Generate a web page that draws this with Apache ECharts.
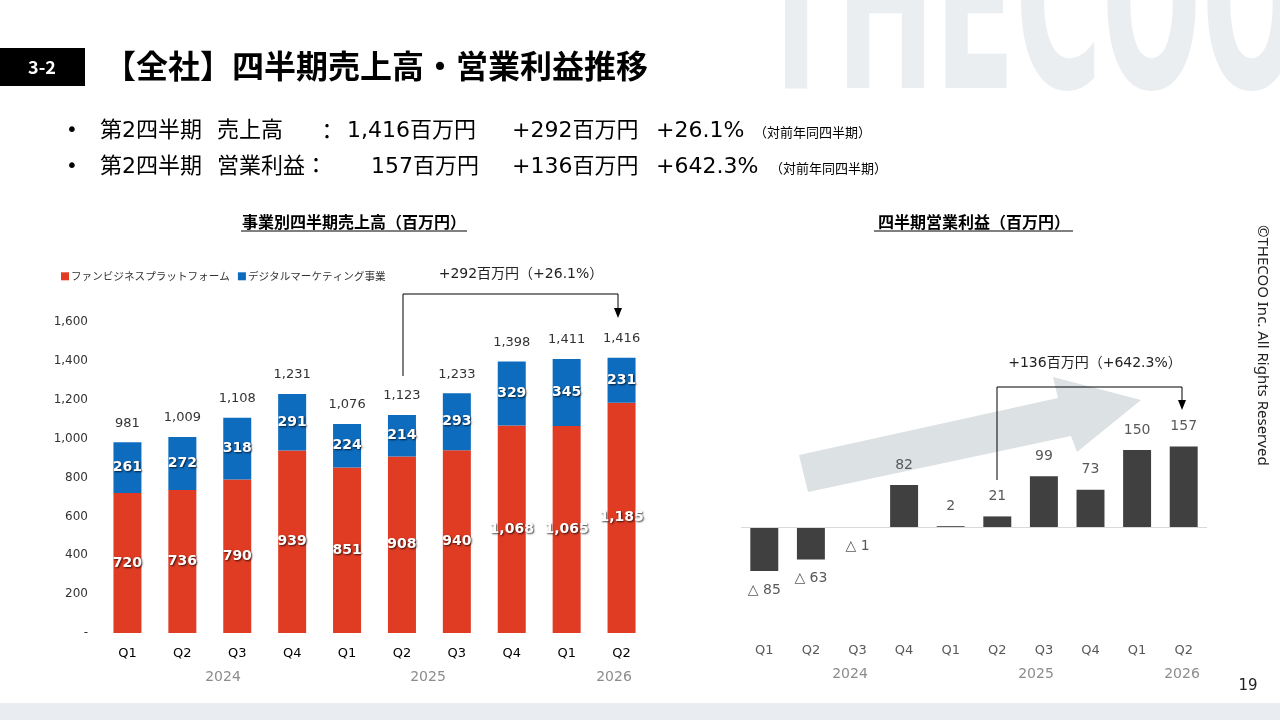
<!DOCTYPE html>
<html><head><meta charset="utf-8">
<script src="https://cdn.jsdelivr.net/npm/echarts@6/dist/echarts.min.js"></script>
<style>html,body{margin:0;padding:0;background:#fff}#c{width:1280px;height:720px}</style>
</head><body><div id="c"></div>
<script>
const quarters = ['Q1','Q2','Q3','Q4','Q1','Q2','Q3','Q4','Q1','Q2'];
const years = ['2024','2025','2026'];
const fanBiz = [720,736,790,939,851,908,940,1068,1065,1185];
const digital = [261,272,318,291,224,214,293,329,345,231];
const salesTotal = [981,1009,1108,1231,1076,1123,1233,1398,1411,1416];
const opProfit = [-85,-63,-1,82,2,21,99,73,150,157];
const salesAxis = {min:0, max:1600, interval:200};
const profitAxis = {min:-200, max:300};
const seriesNames = ['ファンビジネスプラットフォーム','デジタルマーケティング事業'];

const JP = '"Noto Sans CJK JP", sans-serif';
const NUM = '"DejaVu Sans", "Noto Sans CJK JP", sans-serif';
const fmt = v => v.toLocaleString('en-US');

const chart = echarts.init(document.getElementById('c'));

const inLabel = {show:true, position:'inside', color:'#fff', fontWeight:'bold', fontSize:14, fontFamily:NUM,
  textShadowColor:'rgba(0,0,0,0.75)', textShadowBlur:2, textShadowOffsetX:1, textShadowOffsetY:1,
  formatter: p => fmt(p.value)};

function txt(x,y,text,style){ return {type:'text', x, y, style:Object.assign({text, fill:'#000', font:'22px '+NUM, textVerticalAlign:'middle'}, style||{})}; }
function line(points,color,w){ return {type:'polyline', shape:{points}, style:{stroke:color||'#000', lineWidth:w||1, fill:null}}; }
function tri(pts){ return {type:'polygon', shape:{points:pts}, style:{fill:'#000'}}; }

const graphics = [
  // watermark
  {type:'text', x:756, y:26, z:-10, scaleX:0.545, style:{text:'THECOO', fill:'#EBEEF1', font:'bold 240px "DejaVu Sans Condensed", sans-serif', textVerticalAlign:'middle'}},
  // bottom band
  {type:'rect', shape:{x:0,y:703,width:1280,height:17}, style:{fill:'#E9EDF1'}},
  // header
  {type:'rect', shape:{x:0,y:48,width:85,height:38}, style:{fill:'#000'}},
  txt(42,67,'3-2',{fill:'#fff', font:'bold 18px '+JP, textAlign:'center'}),
  txt(104,66,'【全社】四半期売上高・営業利益推移',{font:'bold 32px '+JP}),
  // bullets
  txt(72,131,'•',{font:'20px '+NUM, textAlign:'center'}),
  txt(100,131,'第2四半期',{}), txt(217,131,'売上高',{}), txt(316,131,'：',{font:'22px '+JP}),
  txt(347,131,'1,416百万円',{}), txt(512,131,'+292百万円',{}), txt(656,131,'+26.1%',{}),
  txt(754,132,'（対前年同四半期）',{font:'13px '+JP}),
  txt(72,167,'•',{font:'20px '+NUM, textAlign:'center'}),
  txt(100,167,'第2四半期',{}), txt(217,167,'営業利益：',{}),
  txt(371,167,'157百万円',{}), txt(512,167,'+136百万円',{}), txt(656,167,'+642.3%',{}),
  txt(770,168,'（対前年同四半期）',{font:'13px '+JP}),
  // chart titles
  txt(354,222,'事業別四半期売上高（百万円）',{font:'bold 16px '+JP, textAlign:'center'}),
  line([[241,231],[467,231]],'#000',1),
  txt(974,222,'四半期営業利益（百万円）',{font:'bold 16px '+JP, textAlign:'center'}),
  line([[874,231],[1073,231]],'#000',1),
  // years
  txt(223,677,years[0],{font:'14px '+NUM, fill:'#8C8C8C', textAlign:'center'}),
  txt(428,677,years[1],{font:'14px '+NUM, fill:'#8C8C8C', textAlign:'center'}),
  txt(614,677,years[2],{font:'14px '+NUM, fill:'#8C8C8C', textAlign:'center'}),
  txt(850,674,years[0],{font:'14px '+NUM, fill:'#8C8C8C', textAlign:'center'}),
  txt(1036,674,years[1],{font:'14px '+NUM, fill:'#8C8C8C', textAlign:'center'}),
  txt(1182,674,years[2],{font:'14px '+NUM, fill:'#8C8C8C', textAlign:'center'}),
  // growth arrow
  {type:'polygon', z:-5, shape:{points:[[799,455],[1058,398],[1053,377],[1141,400],[1077,452],[1071,436],[808,492]]}, style:{fill:'#DCE1E3'}},
  // connectors
  line([[403,376],[403,294],[618,294],[618,310]],'#000',1),
  tri([[614,308],[622,308],[618,318]]),
  txt(521,274,'+292百万円（+26.1%）',{font:'14px '+NUM, fill:'#222', textAlign:'center'}),
  line([[997,480],[997,387],[1182,387],[1182,402]],'#000',1),
  tri([[1178,400],[1186,400],[1182,410]]),
  txt(1095,363,'+136百万円（+642.3%）',{font:'14px '+NUM, fill:'#222', textAlign:'center'}),
  // copyright & page
  {type:'text', x:1262, y:225, rotation:-Math.PI/2, style:{text:'©THECOO Inc. All Rights Reserved', fill:'#222', font:'15px "Noto Sans", sans-serif', textVerticalAlign:'middle', textAlign:'left'}},
  txt(1248,686,'19',{font:'15px '+NUM, fill:'#222', textAlign:'center'})
];

const option = {
  animation:false,
  textStyle:{fontFamily:JP},
  legend:{left:56, top:266, itemWidth:8, itemHeight:8, itemGap:8, icon:'rect', data:seriesNames,
    textStyle:{fontSize:10.6, color:'#333', fontFamily:JP, padding:[0,0,0,-3]}},
  grid:[{left:100, top:322, width:549, height:311}, {left:741, top:373, width:466, height:257}],
  xAxis:[
    {gridIndex:0, type:'category', data:quarters, axisLine:{show:false}, axisTick:{show:false},
     axisLabel:{fontSize:13, color:'#000', margin:14, fontFamily:NUM}},
    {gridIndex:1, type:'category', data:quarters, axisLine:{show:false}, axisTick:{show:false},
     axisLabel:{fontSize:13, color:'#595959', margin:14, fontFamily:NUM}}
  ],
  yAxis:[
    {gridIndex:0, type:'value', min:salesAxis.min, max:salesAxis.max, interval:salesAxis.interval,
     splitLine:{show:false}, axisLine:{show:false}, axisTick:{show:false},
     axisLabel:{fontSize:12, color:'#333', margin:12, fontFamily:NUM, formatter:v => v===0 ? '-' : fmt(v)}},
    {gridIndex:1, type:'value', min:profitAxis.min, max:profitAxis.max, show:false, splitLine:{show:false}}
  ],
  series:[
    {name:seriesNames[0], type:'bar', stack:'s', xAxisIndex:0, yAxisIndex:0, data:fanBiz, barWidth:'51%',
     itemStyle:{color:'#E03C24'}, label:inLabel},
    {name:seriesNames[1], type:'bar', stack:'s', xAxisIndex:0, yAxisIndex:0, data:digital, barWidth:'51%',
     itemStyle:{color:'#0E6CBE'}, label:inLabel},
    {name:'total', type:'line', xAxisIndex:0, yAxisIndex:0, data:salesTotal, symbol:'circle', symbolSize:1,
     itemStyle:{color:'rgba(0,0,0,0)'}, lineStyle:{width:0, opacity:0}, silent:true,
     label:{show:true, position:'top', distance:12, fontSize:13, color:'#333', fontFamily:NUM, formatter:p => fmt(p.value)}},
    {name:'営業利益', type:'bar', xAxisIndex:1, yAxisIndex:1, barWidth:'60%', itemStyle:{color:'#404040'},
     data: opProfit.map(v => ({value:v, label:{position: v<0 ? 'bottom' : 'top', distance: v<0 ? 12 : 13}})),
     label:{show:true, fontSize:14, color:'#595959', fontFamily:NUM, formatter:p => p.value<0 ? '△ '+(-p.value) : String(p.value)},
     markLine:{silent:true, symbol:['none','none'], label:{show:false}, lineStyle:{color:'#D9D9D9', width:1, type:'solid'}, data:[{yAxis:0}]}}
  ],
  graphic:graphics
};
chart.setOption(option);
</script></body></html>
